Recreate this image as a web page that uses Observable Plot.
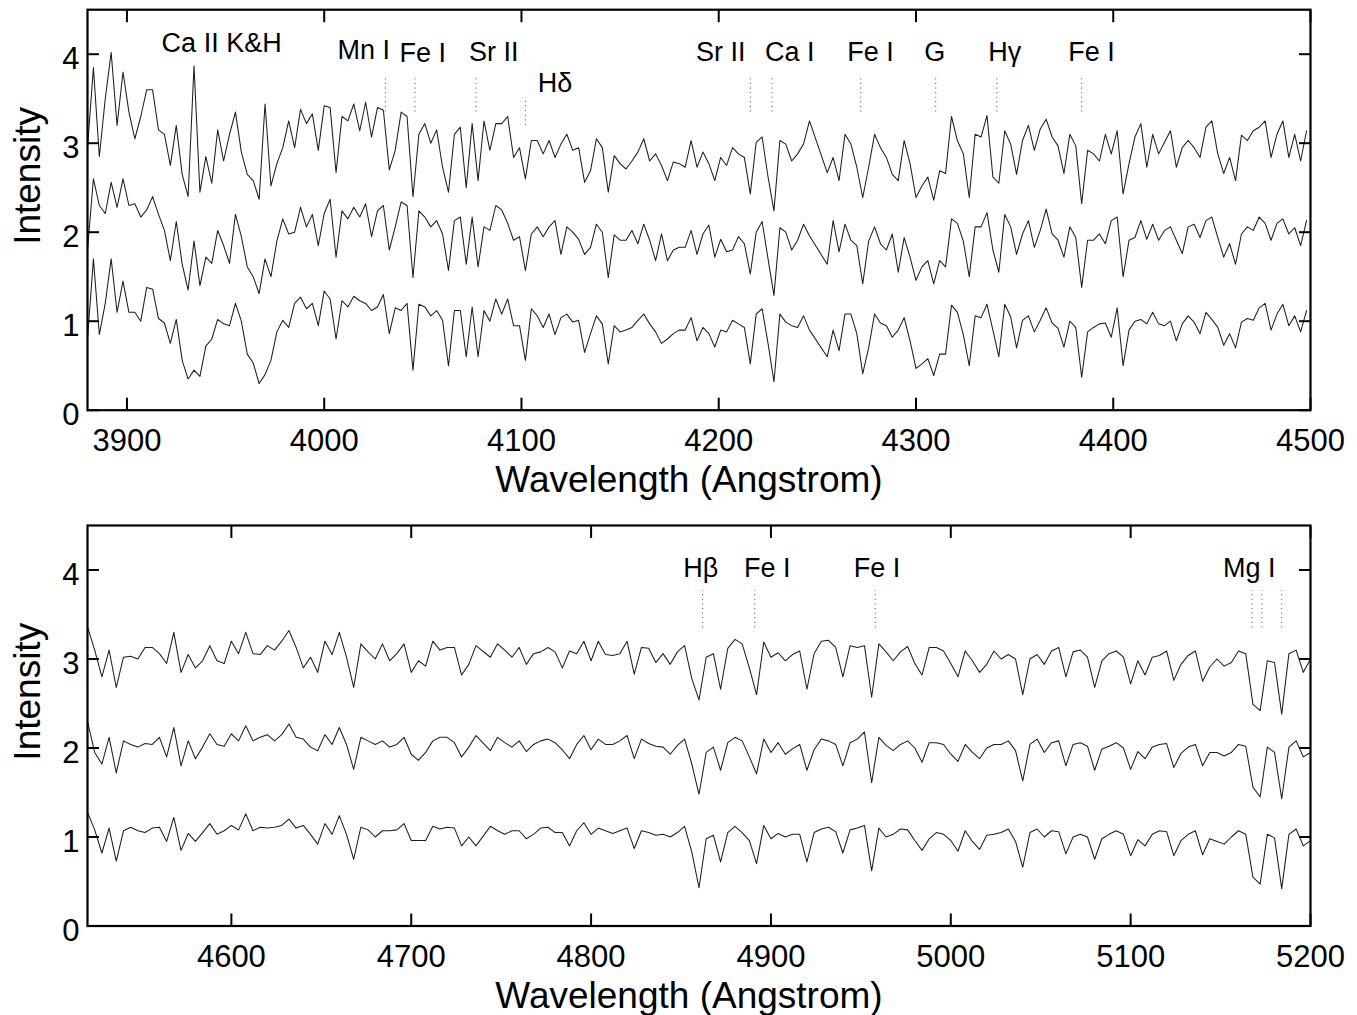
<!DOCTYPE html>
<html>
<head>
<meta charset="utf-8">
<script src="https://cdn.jsdelivr.net/npm/d3@7"></script>
<script src="https://cdn.jsdelivr.net/npm/@observablehq/plot@0.6"></script>
<style>
  html, body { margin: 0; padding: 0; background: #fff; }
  #chart { width: 1357px; height: 1015px; overflow: hidden; }
  #chart svg { display: block; }
</style>
</head>
<body>
<div id="chart"></div>
<script>
// ---------- Top panel: 3880–4498 Å sampled every 3 Å ----------
const topWavelengths = d3.range(3880, 4500, 3);
const topSpectrumHigh = [
  2.95,3.85,2.85,3.5,4.02,3.2,3.8,3.35,3.05,3.3,
  3.6,3.6,3.15,3.1,2.75,3.2,2.65,2.4,3.87,2.45,
  2.85,2.55,3.15,2.8,3.1,3.35,2.9,2.65,2.58,2.37,
  3.44,2.52,2.77,2.95,3.25,2.95,3.38,3.22,3.33,2.92,
  3.42,3.4,2.67,3.3,3.25,3.44,3.14,3.46,3.07,3.4,
  3.37,2.7,2.92,3.35,3.3,2.4,3.1,3.22,3.0,3.15,
  2.73,2.45,3.1,3.18,2.5,3.22,2.58,3.25,2.92,3.22,
  3.22,3.3,2.84,2.95,2.6,3.03,3.03,2.88,3.03,2.84,
  2.99,3.1,2.92,2.95,2.56,2.69,3.05,2.95,2.45,2.86,
  2.77,2.71,2.8,2.9,3.05,2.8,2.88,2.75,2.58,2.79,
  2.77,2.73,3.03,2.73,2.9,2.77,2.58,2.84,2.75,2.95,
  2.88,2.84,2.43,3.01,3.07,2.62,2.24,3.03,2.99,2.8,
  2.88,2.99,3.25,null,null,2.67,2.84,2.58,3.1,2.99,
  2.73,2.39,2.73,3.1,2.95,2.84,2.65,2.58,3.03,2.77,
  2.39,2.52,2.62,2.36,2.69,2.66,3.3,3.03,2.88,2.39,
  3.1,3.07,3.31,2.62,2.55,3.14,2.99,2.65,3.03,3.2,
  2.92,3.16,3.27,3.07,2.97,2.66,3.1,2.97,2.32,2.92,
  2.88,2.8,3.1,2.88,3.14,2.43,2.77,3.07,3.22,2.73,
  3.1,2.88,3.01,3.14,2.73,2.95,3.03,2.95,2.84,3.18,
  3.25,2.88,2.66,2.84,2.58,3.09,3.03,3.14,3.18,3.25,
  2.84,3.1,3.25,2.84,3.1,2.8,3.14
];
const topSpectrumMid = [
  1.8,2.6,2.3,2.21,2.56,2.28,2.6,2.3,2.32,2.17,
  2.25,2.4,2.2,2.02,1.68,2.12,1.64,1.35,1.9,1.4,
  1.72,1.65,2.02,1.85,1.65,2.2,1.95,1.61,1.5,1.31,
  1.7,1.5,1.9,2.15,1.98,2.0,2.28,2.06,2.2,1.85,
  2.21,2.37,1.72,2.24,2.15,2.28,2.17,2.32,1.95,2.24,
  2.3,1.8,2.06,2.34,2.3,1.49,2.24,2.17,2.06,2.13,
  1.98,1.57,2.13,2.17,1.64,2.17,1.61,2.06,2.02,2.3,
  2.25,2.1,1.91,1.95,1.57,1.98,2.06,1.95,2.06,2.13,
  1.75,2.06,2.0,1.92,1.75,1.83,2.09,2.0,1.49,1.97,
  1.91,1.91,2.02,1.87,2.09,1.91,1.68,1.98,1.68,1.8,
  1.83,1.83,2.02,1.75,1.98,2.08,1.72,1.92,1.78,1.8,
  1.95,1.87,1.53,2.0,2.12,1.7,1.29,2.05,2.0,1.8,
  1.91,2.09,1.96,null,null,1.64,2.13,1.78,2.09,1.91,
  1.85,1.42,1.9,2.06,1.87,1.8,1.98,1.55,1.94,1.72,
  1.46,1.61,1.68,1.42,1.68,1.61,2.15,2.1,1.9,1.5,
  2.06,2.06,2.22,1.8,1.55,2.2,2.06,1.75,1.98,2.13,
  1.83,2.02,2.26,1.98,1.91,1.72,2.06,1.94,1.38,1.91,
  1.91,1.98,1.87,2.13,2.17,1.5,1.91,1.94,2.13,1.92,
  2.09,1.91,2.02,2.06,1.91,1.76,2.06,2.09,1.94,2.13,
  2.17,1.94,1.72,1.87,1.64,1.98,2.06,2.02,2.17,2.1,
  1.91,2.1,2.15,1.98,2.05,1.85,2.13
];
const topSpectrumLow = [
  0.8,1.7,0.85,1.2,1.7,1.1,1.45,1.1,1.1,1.0,
  1.38,1.36,1.03,0.98,0.75,1.02,0.56,0.35,0.45,0.38,
  0.72,0.8,1.02,0.97,0.95,1.2,1.0,0.63,0.53,0.3,
  0.4,0.56,0.88,1.01,0.93,1.2,1.27,1.14,1.2,0.95,
  1.34,1.25,0.8,1.23,1.16,1.28,1.23,1.2,1.12,1.16,
  1.3,0.86,1.15,1.12,1.2,0.45,1.19,1.16,1.06,1.12,
  1.01,0.5,1.12,1.12,0.6,1.16,0.6,1.12,1.0,1.25,
  1.08,1.25,0.95,0.95,0.56,1.14,1.06,0.93,1.08,0.85,
  1.04,1.08,0.99,1.01,0.65,0.86,1.06,0.97,0.52,0.95,
  0.88,0.9,0.93,1.01,1.08,0.97,0.88,0.75,0.8,0.86,
  0.9,0.9,1.04,0.78,0.93,0.86,0.71,0.9,0.88,1.01,
  0.97,0.93,0.52,1.08,1.14,0.75,0.32,1.08,0.99,0.95,
  0.93,1.06,0.9,null,null,0.6,0.9,0.67,1.08,1.08,
  0.86,0.41,0.7,1.08,0.98,0.95,0.82,0.9,1.04,0.78,
  0.47,0.52,0.58,0.39,0.63,0.63,1.18,1.1,0.85,0.5,
  1.06,1.04,1.19,0.9,0.6,1.19,1.05,0.7,1.01,1.06,
  0.88,1.01,1.15,0.98,0.92,0.71,1.0,0.93,0.37,0.88,
  0.93,0.97,0.98,0.82,1.15,0.5,0.9,1.0,1.02,0.97,
  1.1,0.97,0.95,1.0,0.78,0.97,1.06,0.99,0.86,1.1,
  1.02,0.93,0.73,0.86,0.7,0.99,1.03,1.01,1.15,1.2,
  0.9,1.08,1.19,0.95,1.06,0.88,1.12
];

// ---------- Bottom panel: 4520–5200 Å sampled every 4 Å ----------
const bottomWavelengths = d3.range(4520, 5201, 4);
const bottomSpectrumHigh = [
  3.36,3.1,2.8,3.1,2.68,3.02,3.03,3.0,3.13,3.13,
  3.06,2.95,3.3,2.85,3.05,2.9,2.98,3.15,2.98,2.95,
  3.2,3.06,3.3,3.06,3.05,3.15,3.1,3.2,3.32,3.13,
  2.9,3.02,2.85,3.2,3.05,3.3,3.02,2.68,3.17,3.08,
  3.0,3.17,2.98,3.06,3.17,2.85,2.98,2.92,3.2,3.1,
  3.13,3.13,2.82,2.94,3.15,null,3.02,3.17,3.1,3.02,
  3.13,2.94,3.06,3.08,3.13,3.08,2.9,3.09,3.06,3.2,
  2.98,3.2,3.05,3.04,3.06,3.2,2.83,3.13,3.12,2.96,
  3.06,2.94,3.08,3.15,2.78,2.54,3.02,3.06,2.66,3.12,
  3.22,3.17,2.9,2.6,3.19,3.02,3.07,2.98,3.05,3.09,
  2.66,3.06,3.2,3.21,3.13,2.8,3.15,3.13,3.15,2.57,
  3.17,3.08,2.98,3.08,3.14,2.95,2.82,3.13,3.13,3.09,
  2.95,2.8,3.09,2.98,2.85,2.94,3.09,3.0,3.05,3.0,
  2.6,3.0,3.05,2.94,3.09,3.13,2.8,3.08,3.1,3.02,
  2.68,2.98,3.06,3.09,3.02,2.72,2.98,2.82,3.02,3.04,
  3.09,2.76,2.94,3.04,3.09,2.75,2.91,3.0,2.92,2.96,
  3.09,3.06,2.49,2.42,2.98,2.96,2.38,3.06,3.1,2.85,
  3.0
];
const bottomSpectrumMid = [
  2.3,1.95,1.82,2.12,1.72,2.08,2.04,2.01,2.05,2.04,
  2.12,1.9,2.23,1.8,2.08,1.88,2.01,2.16,2.04,2.02,
  2.16,2.08,2.25,2.08,2.12,2.15,2.08,2.15,2.27,2.12,
  2.1,2.01,1.97,2.15,2.04,2.23,2.04,1.76,2.12,2.08,
  2.04,2.08,2.01,2.04,2.12,1.93,1.86,1.95,2.08,2.12,
  2.12,2.06,1.9,2.01,2.14,null,1.97,2.12,2.06,2.01,
  2.08,1.96,2.04,2.08,2.1,2.06,1.98,1.88,2.04,2.14,
  1.98,2.1,2.04,2.04,2.08,2.14,1.88,2.1,2.05,2.02,
  2.01,1.93,2.03,2.1,1.82,1.48,1.95,2.01,1.75,2.06,
  2.12,2.08,1.9,1.71,2.1,1.95,2.06,1.93,1.99,2.04,
  1.75,1.98,2.1,2.08,2.04,1.8,2.06,2.1,2.18,1.61,
  2.12,2.03,1.97,2.04,2.08,2.0,1.84,2.06,2.06,2.04,
  1.93,1.85,2.04,1.95,1.88,2.0,2.04,2.04,2.08,1.97,
  1.63,2.04,2.1,1.95,2.06,2.08,1.8,2.04,2.06,2.02,
  1.75,1.99,2.02,2.06,2.0,1.76,1.96,1.88,2.01,2.04,
  2.05,1.78,1.94,2.01,2.04,1.8,1.95,1.95,1.91,1.95,
  2.04,2.02,1.56,1.45,2.01,1.95,1.43,2.01,2.08,1.9,
  1.95
];
const bottomSpectrumLow = [
  1.28,1.08,0.82,1.1,0.73,1.07,1.11,1.07,1.05,1.1,
  1.11,0.95,1.22,0.85,1.04,0.95,1.05,1.15,1.03,1.07,
  1.13,1.08,1.26,1.07,1.11,1.1,1.11,1.13,1.2,1.1,
  1.13,1.03,0.92,1.15,1.03,1.24,1.03,0.75,1.11,1.08,
  1.0,1.07,1.07,1.08,1.15,0.96,0.96,0.96,1.12,1.09,
  1.11,1.1,0.9,1.0,0.9,null,1.12,1.07,1.03,1.07,
  1.07,0.98,1.03,1.1,1.11,1.05,1.05,0.9,1.07,1.16,
  1.03,1.1,1.07,1.04,1.07,1.1,0.87,1.07,1.05,1.02,
  1.03,1.0,1.05,1.12,0.83,0.43,0.98,1.02,0.72,1.05,
  1.12,1.05,0.96,0.7,1.13,0.98,1.04,1.0,1.03,1.03,
  0.72,1.05,1.09,1.11,1.06,0.82,1.08,1.1,1.13,0.62,
  1.1,1.0,1.03,1.09,1.08,0.96,0.85,0.98,1.05,1.03,
  0.96,0.84,1.07,0.95,0.86,1.02,1.03,1.05,1.09,0.95,
  0.66,1.05,1.09,1.0,1.07,1.06,0.81,1.0,1.03,1.0,
  0.75,0.98,1.03,1.07,1.03,0.79,0.97,0.9,1.03,1.07,
  1.06,0.79,0.96,1.03,1.07,0.8,0.98,0.95,0.92,1.0,
  1.07,1.03,0.55,0.47,1.03,0.99,0.42,1.03,1.09,0.9,
  0.96
];

// ---------- Axes ----------
const topXTicks = [3900, 4000, 4100, 4200, 4300, 4400, 4500];
const bottomXTicks = [4600, 4700, 4800, 4900, 5000, 5100, 5200];
const yTicks = [0, 1, 2, 3, 4];
const xAxisTitle = "Wavelength (Angstrom)";
const yAxisTitle = "Intensity";

// ---------- Line identifications ----------
const topLabelNames = ["Ca II K&H", "Mn I", "Fe I", "Sr II", "Hδ", "Sr II", "Ca I", "Fe I", "G", "Hγ", "Fe I"];
const topLabelWaves = [3948, 4020, 4050, 4086, 4117, 4201, 4236, 4277, 4309.5, 4345, 4389];
const topLabelLevels = [4.02, 3.95, 3.91, 3.92, 3.58, 3.92, 3.92, 3.92, 3.92, 3.92, 3.92];
const topLineWaves = [4031, 4046, 4077, 4102, 4216, 4227, 4272, 4310, 4341, 4384];
const topLineFrom = [3.35, 3.35, 3.35, 3.2, 3.35, 3.35, 3.35, 3.35, 3.35, 3.35];
const topLineTo = [3.76, 3.76, 3.76, 3.48, 3.76, 3.76, 3.76, 3.76, 3.76, 3.76];

const bottomLabelNames = ["Hβ", "Fe I", "Fe I", "Mg I"];
const bottomLabelWaves = [4861, 4898, 4959, 5166];
const bottomLabelLevels = [3.92, 3.92, 3.92, 3.92];
const bottomLineWaves = [4862, 4891, 4958, 5167.5, 5173, 5184];
const bottomLineFrom = [3.35, 3.35, 3.35, 3.35, 3.35, 3.35];
const bottomLineTo = [3.77, 3.77, 3.77, 3.77, 3.77, 3.77];

// ---------- Build tables ----------
function spectrumRows(waves, seriesList) {
  return seriesList.flatMap(([name, vals]) =>
    vals.map((v, i) => ({w: waves[i], v, s: name})).filter(d => d.v != null));
}
const zipLabels = (names, waves, levels) => names.map((t, i) => ({t, w: waves[i], y: levels[i]}));
const zipLines = (waves, from, to) => waves.map((w, i) => ({w, y1: from[i], y2: to[i]}));

const topRows = spectrumRows(topWavelengths, [["high", topSpectrumHigh], ["mid", topSpectrumMid], ["low", topSpectrumLow]]);
const bottomRows = spectrumRows(bottomWavelengths, [["high", bottomSpectrumHigh], ["mid", bottomSpectrumMid], ["low", bottomSpectrumLow]]);

function panel(o) {
  return Plot.plot({
    width: 1357,
    height: o.height,
    marginLeft: 87,
    marginRight: 47,
    marginTop: o.marginTop,
    marginBottom: o.marginBottom,
    style: {fontFamily: "'Liberation Sans', Arial, sans-serif", fontSize: "31px", color: "#000", background: "#fff", overflow: "visible"},
    x: {domain: o.xDomain},
    y: {domain: [0, 4.5]},
    marks: [
      Plot.line(o.rows, {x: "w", y: "v", z: "s", stroke: "#1e1e1e", strokeWidth: 1.05}),
      Plot.ruleX(o.lines, {x: "w", y1: "y1", y2: "y2", stroke: "#444", strokeWidth: 1, strokeDasharray: "1 3.6"}),
      Plot.text(o.labels, {x: "w", y: "y", text: "t", lineAnchor: "bottom", fontSize: 27, fill: "#000"}),
      Plot.axisX(o.xTicks, {anchor: "bottom", tickSize: -12, strokeWidth: 2, fill: "none", label: null}),
      Plot.axisX(o.xTicks, {anchor: "top", tickSize: -12, strokeWidth: 2, fill: "none", label: null}),
      Plot.axisX(o.xTicks, {anchor: "bottom", tickSize: 0, tickPadding: 18.5, label: null, tickFormat: d => String(d)}),
      Plot.axisY(yTicks, {anchor: "left", tickSize: -12, strokeWidth: 2, fill: "none", label: null}),
      Plot.axisY(yTicks, {anchor: "right", tickSize: -12, strokeWidth: 2, fill: "none", label: null}),
      Plot.axisY(yTicks, {anchor: "left", tickSize: 0, tickPadding: 8, dy: 5, label: null, tickFormat: d => String(d)}),
      Plot.text([xAxisTitle], {text: d => d, frameAnchor: "bottom", dx: -10, dy: 82, lineAnchor: "bottom", fontSize: 37}),
      Plot.text([yAxisTitle], {text: d => d, frameAnchor: "left", rotate: -90, dx: -74, dy: -34, lineAnchor: "top", textAnchor: "middle", fontSize: 37}),
      Plot.frame({stroke: "#000", strokeWidth: 2.2})
    ]
  });
}

const chart = document.getElementById("chart");
chart.append(panel({
  height: 510, marginTop: 9.2, marginBottom: 100.3,
  xDomain: [3880, 4500], xTicks: topXTicks, rows: topRows,
  labels: zipLabels(topLabelNames, topLabelWaves, topLabelLevels),
  lines: zipLines(topLineWaves, topLineFrom, topLineTo)
}));
chart.append(panel({
  height: 505, marginTop: 15, marginBottom: 89.5,
  xDomain: [4520, 5200], xTicks: bottomXTicks, rows: bottomRows,
  labels: zipLabels(bottomLabelNames, bottomLabelWaves, bottomLabelLevels),
  lines: zipLines(bottomLineWaves, bottomLineFrom, bottomLineTo)
}));
</script>
</body>
</html>
